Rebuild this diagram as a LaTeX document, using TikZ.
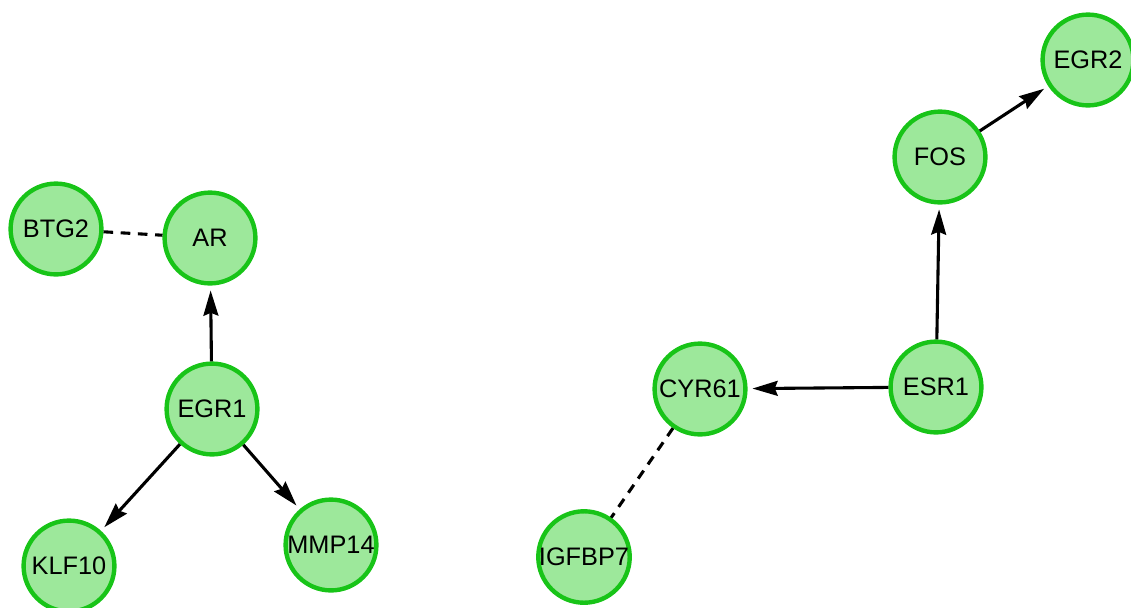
\documentclass[tikz,border=0pt]{standalone}
\usepackage{fontspec}
\setmainfont{Liberation Sans}
\usepackage{tikz}
\usetikzlibrary{arrows.meta}

\definecolor{genefill}{RGB}{157,232,155}
\definecolor{genedraw}{RGB}{24,196,24}

\begin{document}
\begin{tikzpicture}[
    x=0.025cm, y=-0.025cm,
    font=\fontsize{18}{21}\selectfont,
    >={Stealth[length=6.3mm,width=3.7mm,inset=0.7mm]},
    gene/.style={draw=genedraw, fill=genefill, circle, line width=0.11cm,
                 minimum size=2.27cm, inner sep=0pt},
    act/.style={->, line width=2.2pt, shorten >=1.2mm},
    assoc/.style={line width=2.2pt, dash pattern=on 2.4mm off 1.9mm},
  ]
  \useasboundingbox (0,0) rectangle (1131,607);

  %% ---- left component ---------------------------------------------
  \node[gene] (BTG2)  at ( 56,229) {BTG2};
  \node[gene] (AR)    at (210,238) {AR};
  \node[gene] (EGR1)  at (212,409) {EGR1};
  \node[gene] (KLF10) at ( 69,566) {KLF10};
  \node[gene] (MMP14) at (331,545) {MMP14};

  \draw[assoc] (BTG2) -- (AR);
  \draw[act]   (EGR1) -- (AR);
  \draw[act]   (EGR1) -- (KLF10);
  \draw[act]   (EGR1) -- (MMP14);

  %% ---- right component --------------------------------------------
  \node[gene] (CYR61)  at ( 700,389) {CYR61};
  \node[gene] (ESR1)   at ( 936,387) {ESR1};
  \node[gene] (FOS)    at ( 940,157) {FOS};
  \node[gene] (EGR2)   at (1088, 60) {EGR2};
  \node[gene] (IGFBP7) at ( 584,557) {IGFBP7};

  \draw[act]   (ESR1)  -- (CYR61);
  \draw[act]   (ESR1)  -- (FOS);
  \draw[act]   (FOS)   -- (EGR2);
  \draw[assoc] (CYR61) -- (IGFBP7);

\end{tikzpicture}
\end{document}
